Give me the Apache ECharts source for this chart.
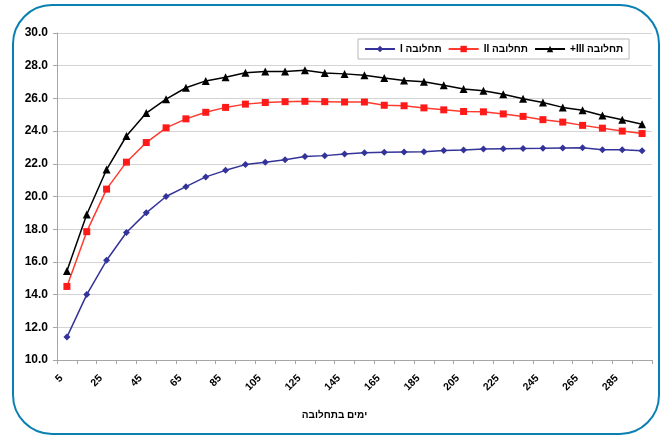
<!DOCTYPE html>
<html>
<head>
<meta charset="utf-8">
<script src="https://cdn.jsdelivr.net/npm/echarts@6/dist/echarts.min.js"></script>
<style>
html,body{margin:0;padding:0;background:#fff;}
#frame{position:absolute;left:12px;top:4px;width:648px;height:431px;border:2.5px solid #0a80b2;border-radius:40px;box-sizing:border-box;}
#c{position:absolute;left:0;top:0;width:669px;height:438px;}
</style>
</head>
<body>
<div id="frame"></div>
<div id="c"></div>
<script>
const categories = ['5','15','25','35','45','55','65','75','85','95','105','115','125','135','145','155','165','175','185','195','205','215','225','235','245','255','265','275','285','295'];
const seriesNames = ['I תחלובה', 'II תחלובה', '+III תחלובה'];
const lact1 = [11.4,14.0,16.1,17.8,19.0,20.0,20.6,21.2,21.6,21.95,22.1,22.25,22.45,22.5,22.6,22.68,22.7,22.72,22.74,22.82,22.84,22.9,22.92,22.94,22.95,22.97,22.98,22.86,22.86,22.8];
const lact2 = [14.5,17.85,20.45,22.1,23.3,24.2,24.75,25.15,25.45,25.65,25.75,25.8,25.82,25.8,25.78,25.78,25.58,25.55,25.42,25.3,25.2,25.18,25.05,24.9,24.7,24.55,24.35,24.18,24.0,23.85];
const lact3 = [15.45,18.9,21.65,23.7,25.1,25.95,26.65,27.07,27.3,27.57,27.65,27.65,27.72,27.55,27.5,27.42,27.25,27.1,27.02,26.8,26.58,26.47,26.25,25.98,25.75,25.45,25.27,24.95,24.7,24.42];
const yTicks = {min:10, max:30, interval:2};
const xTitle = 'ימים בתחלובה';

const chart = echarts.init(document.getElementById('c'), null, {renderer:'canvas'});
const font = 'Liberation Sans, Arial, sans-serif';
chart.setOption({
  animation:false,
  backgroundColor:'transparent',
  grid:{left:57, right:17, top:33, bottom:78, containLabel:false},
  legend:{
    show:true,
    left:358, top:39, width:274,
    itemGap:6,
    padding:[5,6,5,6],
    itemWidth:30, itemHeight:8,
    backgroundColor:'#fff',
    borderColor:'#b8b8b8', borderWidth:1,
    textStyle:{fontFamily:font, fontSize:10, fontWeight:'bold', color:'#000'},
    data:seriesNames
  },
  xAxis:{
    type:'category',
    data:categories,
    boundaryGap:true,
    name:xTitle,
    nameLocation:'middle',
    nameGap:50,
    nameTextStyle:{fontFamily:font, fontSize:10, fontWeight:'bold', color:'#000', padding:[0,40,0,0]},
    axisLine:{lineStyle:{color:'#a6a6a6', width:1}},
    axisTick:{show:true, interval:0, length:4, lineStyle:{color:'#a6a6a6'}},
    axisLabel:{interval:1, rotate:45, fontFamily:font, fontSize:10.5, fontWeight:'bold', color:'#000', margin:11, padding:[0,8,0,0]},
    splitLine:{show:false}
  },
  yAxis:{
    type:'value',
    min:yTicks.min, max:yTicks.max, interval:yTicks.interval,
    axisLine:{show:true, lineStyle:{color:'#a6a6a6', width:1}},
    axisTick:{show:true, length:4, lineStyle:{color:'#a6a6a6'}},
    axisLabel:{fontFamily:font, fontSize:12, fontWeight:'bold', color:'#000', margin:9, formatter:v=>v.toFixed(1)},
    splitLine:{show:true, lineStyle:{color:'#d4d4d4', width:1}}
  },
  series:[
    {name:seriesNames[0], type:'line', data:lact1, symbol:'diamond', symbolSize:7,
     lineStyle:{color:'#333399', width:1.5}, itemStyle:{color:'#333399'}},
    {name:seriesNames[1], type:'line', data:lact2, symbol:'rect', symbolSize:7,
     lineStyle:{color:'#ff3b2f', width:1.5}, itemStyle:{color:'#ff1a1a'}},
    {name:seriesNames[2], type:'line', data:lact3, symbol:'triangle', symbolSize:8,
     lineStyle:{color:'#000', width:1.5}, itemStyle:{color:'#000'}}
  ]
});
</script>
</body>
</html>
